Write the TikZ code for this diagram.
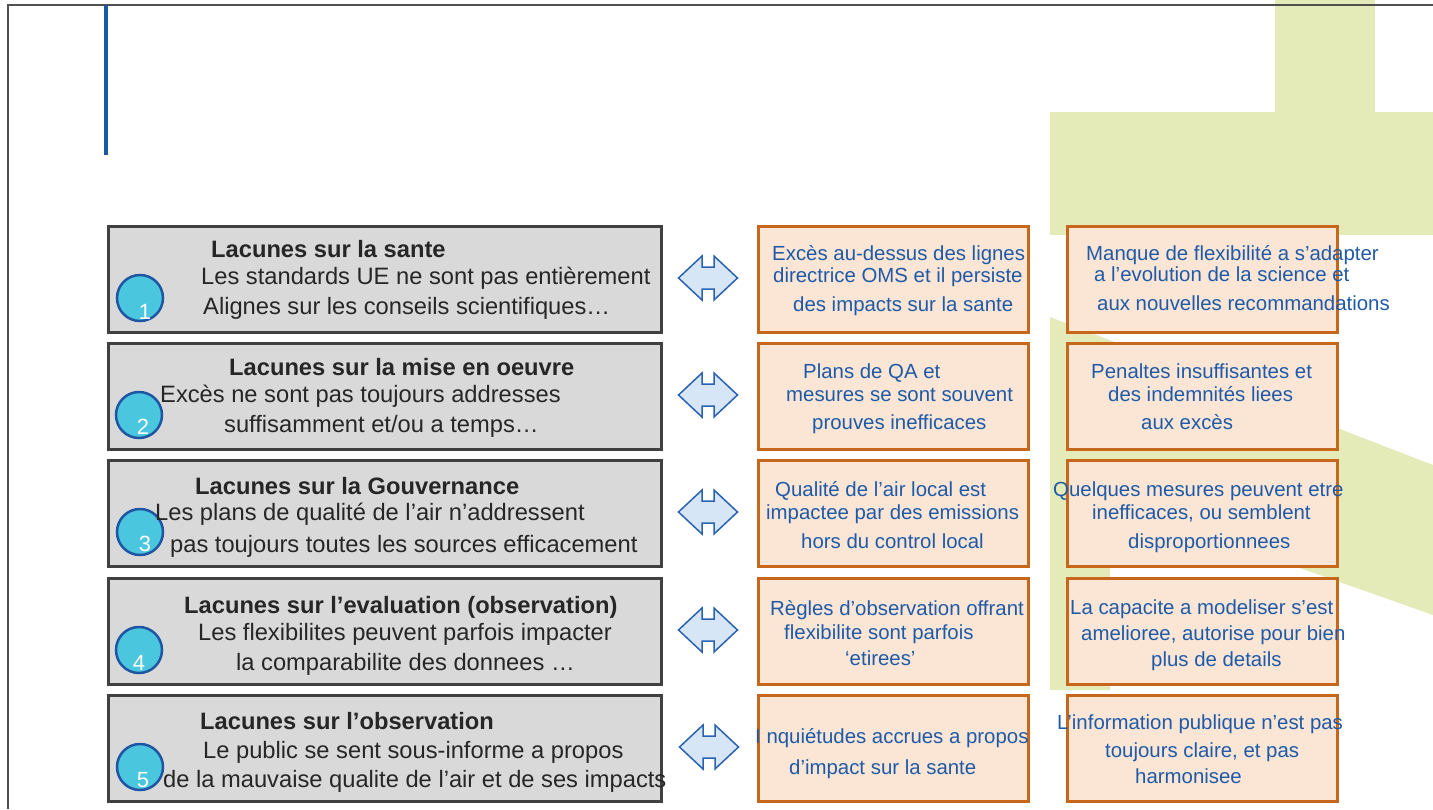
\documentclass[tikz,border=0pt]{standalone}
\usepackage{fontspec}
\setmainfont{Liberation Sans}
\definecolor{boxgray}{HTML}{404040}
\definecolor{fillgray}{HTML}{D9D9D9}
\definecolor{orline}{HTML}{C6671B}
\definecolor{orfill}{HTML}{FBE5D5}
\definecolor{txtgray}{HTML}{262626}
\definecolor{txtblue}{HTML}{1E5AA8}
\definecolor{circline}{HTML}{1F56A3}
\definecolor{circfill}{HTML}{4BC6DF}
\definecolor{arrline}{HTML}{2A62B0}
\definecolor{arrfill}{HTML}{D6E6F6}
\definecolor{logogreen}{HTML}{E5EAB9}
\definecolor{framegray}{HTML}{505050}
\definecolor{titleblue}{HTML}{1B58A8}
\begin{document}
\begin{tikzpicture}[x=1pt,y=-1pt,
  graybox/.style={draw=boxgray, line width=3pt, fill=fillgray, inner sep=0pt, minimum width=553pt, minimum height=106pt, anchor=north west},
  orbox/.style={draw=orline, line width=3pt, fill=orfill, inner sep=0pt, minimum width=270pt, minimum height=106pt, anchor=north west},
  gtitle/.style={anchor=base west, inner sep=0pt, text=txtgray, font=\fontsize{23.7}{28}\selectfont\bfseries},
  gtext/.style={anchor=base west, inner sep=0pt, text=txtgray, font=\fontsize{23.7}{28}\selectfont},
  btext/.style={anchor=base west, inner sep=0pt, text=txtblue, font=\fontsize{20.4}{24}\selectfont},
  numcirc/.style={circle, draw=circline, line width=2.5pt, fill=circfill, minimum size=46pt, inner sep=0pt},
  numtxt/.style={anchor=base, inner sep=0pt, text=white, font=\fontsize{22}{24}\selectfont},
  dblarrow/.style={draw=arrline, line width=1.5pt, fill=arrfill, line join=miter},
  greenbg/.style={fill=logogreen, draw=none},
  dbl/.pic={\filldraw[dblarrow] (-29.5,0) -- (-6,-22) -- (-6,-11) -- (6,-11) -- (6,-22) -- (29.5,0) -- (6,22) -- (6,11) -- (-6,11) -- (-6,22) -- cycle;}
]
\useasboundingbox (0,0) rectangle (1433,809);
% background logo shapes
\fill[greenbg] (1275,0) rectangle (1375,113);
\fill[greenbg] (1050,112) rectangle (1433,235);
\fill[greenbg] (1050,317) -- (1433,465) -- (1433,615) -- (1110,501) -- (1110,690) -- (1050,690) -- cycle;
% frame and title bar
\draw[framegray, line width=2.5pt] (8,809) -- (8,5) -- (1433,5);
\draw[titleblue, line width=4pt] (106,5) -- (106,155);

% boxes
\foreach \r/\t in {1/225,2/342,3/459,4/577,5/694}{
  \node[graybox] (g\r) at (107,\t) {};
  \node[orbox] (oa\r) at (757,\t) {};
  \node[orbox] (ob\r) at (1066,\t) {};
}

% arrows
\pic (arr1) at (708,278) {dbl};
\pic (arr2) at (708,395) {dbl};
\pic (arr3) at (708,512) {dbl};
\pic (arr4) at (708,630) {dbl};
\pic (arr5) at (709,747) {dbl};

% circles
\node[numcirc] (c1) at (140,298) {};
\node[numcirc] (c2) at (139,415) {};
\node[numcirc] (c3) at (140,532) {};
\node[numcirc] (c4) at (139,650) {};
\node[numcirc] (c5) at (140,767) {};

% row 1 gray
\node[gtitle] (t1) at (211,257) {Lacunes sur la sante};
\node[gtext] (t1a) at (201,284) {Les standards UE ne sont pas entièrement};
\node[gtext] (t1b) at (203,314) {Alignes sur les conseils scientifiques…};
% row 2
\node[gtitle] (t2) at (229,375) {Lacunes sur la mise en oeuvre};
\node[gtext] (t2a) at (160,402) {Excès ne sont pas toujours addresses};
\node[gtext] (t2b) at (224,432) {suffisamment et/ou a temps…};
% row 3
\node[gtitle] (t3) at (195,494) {Lacunes sur la Gouvernance};
\node[gtext] (t3a) at (155,520) {Les plans de qualité de l’air n’addressent};
\node[gtext] (t3b) at (170,552) {pas toujours toutes les sources efficacement};
% row 4
\node[gtitle] (t4) at (184,613) {Lacunes sur l’evaluation (observation)};
\node[gtext] (t4a) at (198,640) {Les flexibilites peuvent parfois impacter};
\node[gtext] (t4b) at (236,670) {la comparabilite des donnees …};
% row 5
\node[gtitle] (t5) at (200,729) {Lacunes sur l’observation};
\node[gtext] (t5a) at (203,758) {Le public se sent sous-informe a propos};
\node[gtext] (t5b) at (163,787) {de la mauvaise qualite de l’air et de ses impacts};

% numbers
\node[numtxt] (n1) at (145,319) {1};
\node[numtxt] (n2) at (143,434) {2};
\node[numtxt] (n3) at (145,551) {3};
\node[numtxt] (n4) at (139,670) {4};
\node[numtxt] (n5) at (143,787) {5};

% column A
\node[btext] (a1a) at (772,260) {Excès au-dessus des lignes};
\node[btext] (a1b) at (773,282) {directrice OMS et il persiste};
\node[btext] (a1c) at (793,311) {des impacts sur la sante};
\node[btext] (a2a) at (803,378) {Plans de QA et};
\node[btext] (a2b) at (786,401) {mesures se sont souvent};
\node[btext] (a2c) at (812,429) {prouves inefficaces};
\node[btext] (a3a) at (775,496) {Qualité de l’air local est};
\node[btext] (a3b) at (766,519) {impactee par des emissions};
\node[btext] (a3c) at (801,548) {hors du control local};
\node[btext] (a4a) at (770,615) {Règles d’observation offrant};
\node[btext] (a4b) at (784,639) {flexibilite sont parfois};
\node[btext] (a4c) at (845,665) {‘etirees’};
\node[btext] (a5a) at (755,743) {I nquiétudes accrues a propos};
\node[btext] (a5b) at (789,774) {d’impact sur la sante};

% column B
\node[btext] (b1a) at (1086,260) {Manque de flexibilité a s’adapter};
\node[btext] (b1b) at (1094,281) {a l’evolution de la science et};
\node[btext] (b1c) at (1097,310) {aux nouvelles recommandations};
\node[btext] (b2a) at (1091,378) {Penaltes insuffisantes et};
\node[btext] (b2b) at (1108,401) {des indemnités liees};
\node[btext] (b2c) at (1141,429) {aux excès};
\node[btext] (b3a) at (1053,496) {Quelques mesures peuvent etre};
\node[btext] (b3b) at (1092,519) {inefficaces, ou semblent};
\node[btext] (b3c) at (1128,548) {disproportionnees};
\node[btext] (b4a) at (1070,614) {La capacite a modeliser s’est};
\node[btext] (b4b) at (1081,640) {amelioree, autorise pour bien};
\node[btext] (b4c) at (1151,666) {plus de details};
\node[btext] (b5a) at (1057,729) {L’information publique n’est pas};
\node[btext] (b5b) at (1105,757) {toujours claire, et pas};
\node[btext] (b5c) at (1135,783) {harmonisee};
\end{tikzpicture}
\end{document}
